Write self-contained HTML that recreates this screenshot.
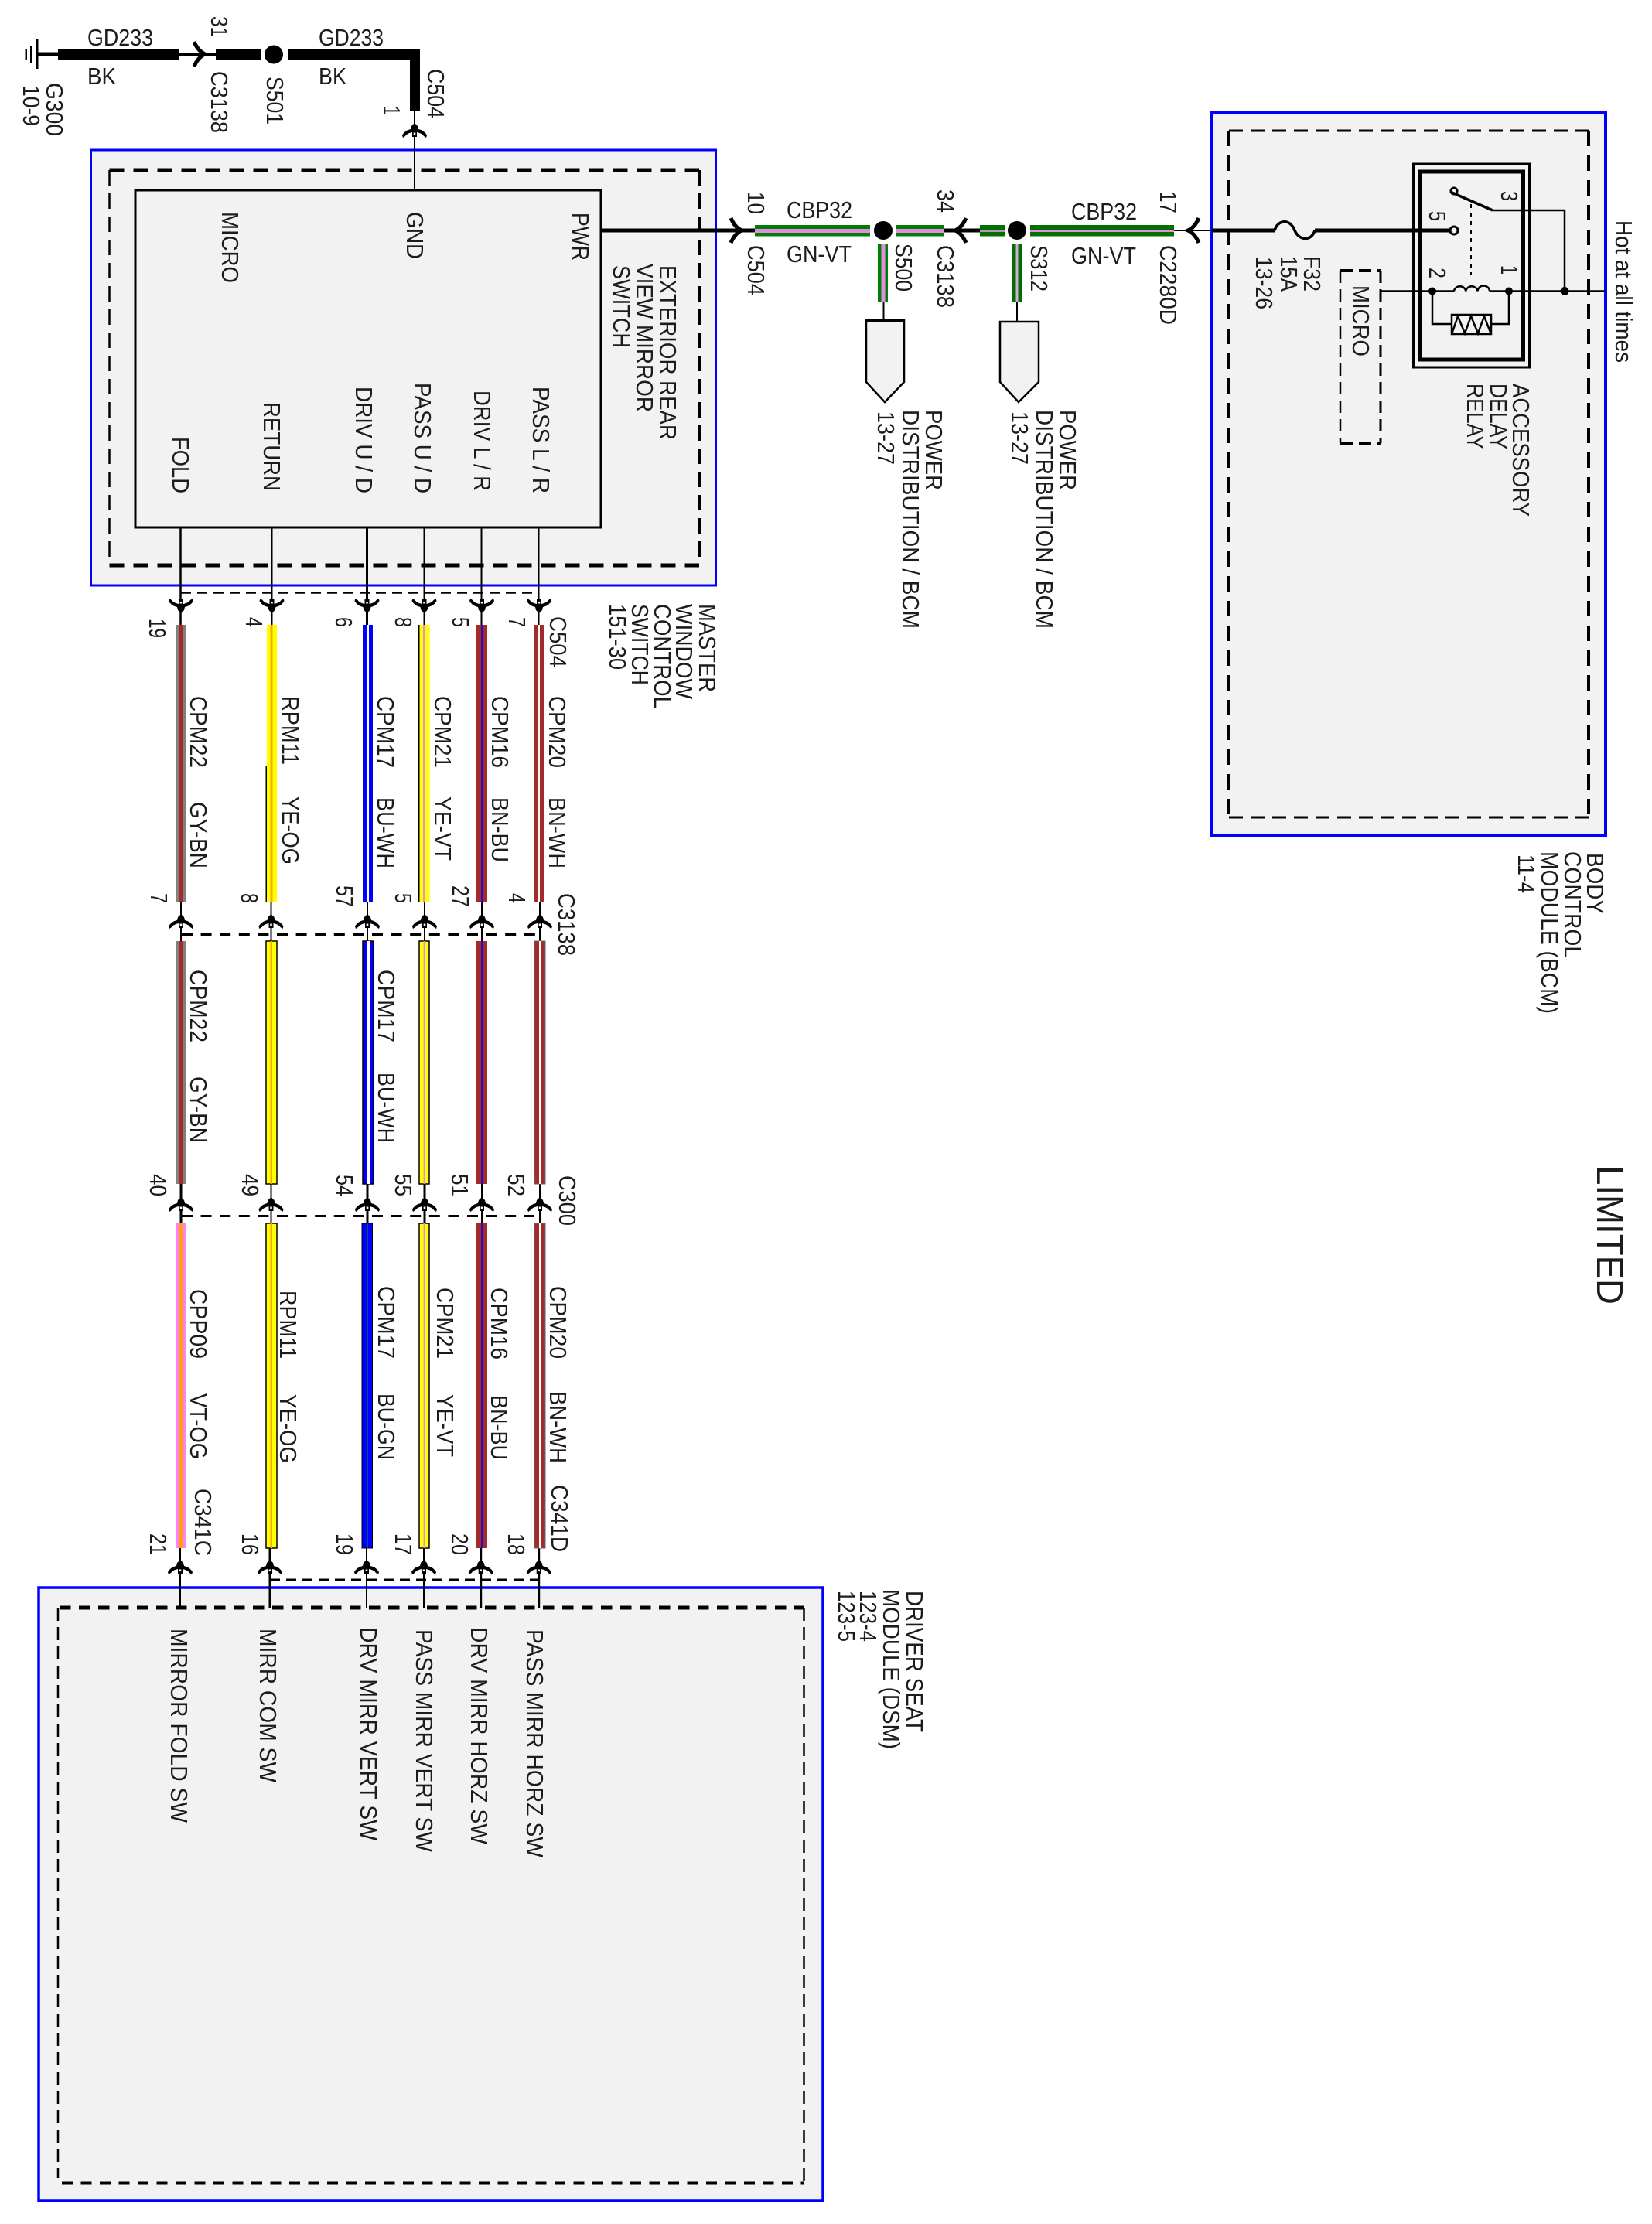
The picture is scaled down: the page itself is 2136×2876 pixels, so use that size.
<!DOCTYPE html>
<html><head><meta charset="utf-8"><style>
html,body{margin:0;padding:0;background:#fff}
svg{display:block;filter:blur(.3px)}
text{font-family:"Liberation Sans",sans-serif;font-size:31px;fill:#1c1c1c}
</style></head><body>
<svg xmlns="http://www.w3.org/2000/svg" width="2136" height="2876" viewBox="0 0 2136 2876">
<defs>
<g id="up"><path d="M0,0 L4,4 L5,8 C10,9 14,12 16,16 L15,19 L12,17 C10,14 7,13 3,12 L3,18 L-3,18 L-3,12 C-7,13 -10,14 -12,17 L-15,19 L-16,16 C-14,12 -10,9 -5,8 L-4,4Z"/><rect x="-1.300" y="12.500" width="2.600" height="2.600" fill="#fff"/></g>
<g id="dn" transform="scale(1,-1)"><path d="M0,0 L4,4 L5,8 C10,9 14,12 16,16 L15,19 L12,17 C10,14 7,13 3,12 L3,18 L-3,18 L-3,12 C-7,13 -10,14 -12,17 L-15,19 L-16,16 C-14,12 -10,9 -5,8 L-4,4Z"/><rect x="-1.300" y="12.500" width="2.600" height="2.600" fill="#fff"/></g>
<g id="cr"><path d="M-14,-16 Q-9,-4 0,0 Q-9,4 -14,16" fill="none" stroke="#000" stroke-width="5"/></g>
<g id="cl" transform="scale(-1,1)"><path d="M-14,-16 Q-9,-4 0,0 Q-9,4 -14,16" fill="none" stroke="#000" stroke-width="5"/></g>
</defs>
<rect width="2136" height="2876" fill="#fff"/>

<!-- module boxes -->
<rect x="117.500" y="194" width="808" height="563" fill="#f2f2f2" stroke="#0000ff" stroke-width="3"/>
<rect x="1567" y="145" width="509" height="936" fill="#f2f2f2" stroke="#0000ff" stroke-width="4"/>
<rect x="50" y="2053" width="1014" height="793" fill="#f2f2f2" stroke="#0000ff" stroke-width="3.500"/>

<g fill="none" stroke="#000">
<path d="M141.500,220H904" stroke-width="5" stroke-dasharray="19 12"/>
<path d="M141.500,731H904" stroke-width="5" stroke-dasharray="19 12"/>
<path d="M141.500,220V731" stroke-width="2.500" stroke-dasharray="20 10"/>
<path d="M904,220V731" stroke-width="4" stroke-dasharray="20 10"/>
<path d="M1589,169H2054" stroke-width="3" stroke-dasharray="18 10"/>
<path d="M1589,1057H2054" stroke-width="3" stroke-dasharray="18 10"/>
<path d="M1589,169V1057" stroke-width="4" stroke-dasharray="20 12"/>
<path d="M2054,169V1057" stroke-width="4" stroke-dasharray="20 12"/>
<path d="M77,2079H1040" stroke-width="5" stroke-dasharray="14.500 10.500"/>
<path d="M80,2823H1040" stroke-width="3" stroke-dasharray="14 10.500"/>
<path d="M75,2079V2817" stroke-width="2.500" stroke-dasharray="17 8"/>
<path d="M1039.500,2079V2823" stroke-width="2.500" stroke-dasharray="17 8"/>
<path d="M1733,350H1785M1733,573H1785" stroke-width="4" stroke-dasharray="16 8"/>
<path d="M1733,350V573" stroke-width="2.500" stroke-dasharray="16 8"/>
<path d="M1785,350V573" stroke-width="3" stroke-dasharray="16 8"/>
<!-- connector dashes -->
<path d="M234,766.500H693" stroke-width="2.500" stroke-dasharray="13 8"/>
<path d="M235,1208.700H693" stroke-width="4.500" stroke-dasharray="14 10.600"/>
<path d="M235,1572.500H691" stroke-width="3" stroke-dasharray="14 10.600"/>
<path d="M349,2043H696" stroke-width="3" stroke-dasharray="13 8"/>
</g>
<rect x="175" y="246" width="602" height="436" fill="#f2f2f2" stroke="#000" stroke-width="3"/>

<!-- top ground run -->
<g fill="#000">
<rect x="48" y="67.500" width="27" height="5"/>
<rect x="47" y="51" width="2.500" height="38"/><rect x="39" y="59" width="2.500" height="23"/><rect x="32.500" y="64" width="2.500" height="13"/>
<rect x="75" y="63" width="157" height="15"/>
<rect x="232" y="68" width="47" height="4"/>
<rect x="279" y="63" width="59" height="15"/>
<circle cx="354" cy="70.500" r="12"/>
<path d="M372,63H543V143H530V78H372Z"/>
<rect x="535" y="143" width="2" height="103"/>
<rect x="777" y="295.500" width="200" height="5"/>
<rect x="1220" y="295.500" width="47" height="5"/>
<rect x="1518" y="297" width="49" height="2"/>
<rect x="1567" y="295.500" width="81" height="5"/>
<rect x="1700" y="295.500" width="175" height="5"/>
</g>
<use href="#cr" x="265" y="70"/><use href="#up" x="536" y="159"/>

<!-- CBP32 wires -->
<g>
<rect x="976" y="291" width="149" height="14.500" fill="#008000"/><rect x="976" y="296" width="149" height="5" fill="#e88be8"/>
<rect x="1159" y="291" width="61" height="14.500" fill="#008000"/><rect x="1159" y="296" width="61" height="5" fill="#e88be8"/>
<rect x="1267" y="291" width="32" height="14.500" fill="#006f00"/><rect x="1267" y="297" width="32" height="3" fill="#c090c0"/>
<rect x="1332" y="291" width="186" height="14.500" fill="#006f00"/><rect x="1332" y="297" width="186" height="3" fill="#e88be8"/>
<rect x="1135" y="315" width="13" height="75" fill="#008000"/><rect x="1139.500" y="315" width="5" height="75" fill="#e88be8"/>
<rect x="1308" y="315" width="13.500" height="75" fill="#006f00"/><rect x="1313.500" y="315" width="3" height="75" fill="#d9a9d9"/>
<rect x="1141.500" y="390" width="2" height="26"/><rect x="1314" y="390" width="2" height="26"/>
<circle cx="1142" cy="298" r="12"/><circle cx="1315" cy="298" r="12"/>
</g>
<use href="#cr" x="959" y="298"/><use href="#cl" x="1235" y="298"/><use href="#cl" x="1536" y="298"/>
<path d="M1120,414H1169V494L1144,520L1120,494Z" fill="#f2f2f2" stroke="#000" stroke-width="2.500"/>
<rect x="1120" y="412" width="49" height="4.500"/>
<path d="M1293,416H1343V494L1317,520L1293,494Z" fill="#f2f2f2" stroke="#000" stroke-width="2.500"/>

<!-- BCM internals -->
<path d="M1648,298 C1652,284 1668,282 1674,298 C1680,312 1696,312 1700,298" fill="none" stroke="#000" stroke-width="3.500"/>
<rect x="1827.500" y="212" width="150" height="263" fill="none" stroke="#000" stroke-width="3"/>
<rect x="1836.500" y="222" width="133" height="243" fill="none" stroke="#000" stroke-width="5"/>
<circle cx="1880" cy="298" r="5" fill="#f2f2f2" stroke="#000" stroke-width="3"/>
<circle cx="1880" cy="247" r="4" fill="#f2f2f2" stroke="#000" stroke-width="3"/>
<g fill="none" stroke="#000">
<path d="M1875,248L1930,272" stroke-width="3.500"/>
<path d="M1930,272H2023V376.500" stroke-width="2.500"/>
<path d="M1902,264V355" stroke-width="2" stroke-dasharray="5 6"/>
<path d="M1785,376.500H1880M1926,376.500H2076" stroke-width="2.500"/>
<path d="M1880,376.500a7.700,7 0 0 1 15.300,0a7.700,7 0 0 1 15.300,0a7.700,7 0 0 1 15.400,0" stroke-width="2.500"/>
<path d="M1852,376.500V419H1877M1928,419H1951V376.500" stroke-width="2.500"/>
<rect x="1877" y="407" width="51" height="25" stroke-width="2.500"/>
<path d="M1877,432L1885,409L1894,431L1902,409L1911,431L1919,409L1928,432" stroke-width="2.500"/>
</g>
<circle cx="1852" cy="376.500" r="5"/><circle cx="1951" cy="376.500" r="5"/><circle cx="2023" cy="376.500" r="5.500"/>

<!-- vertical thin wires -->
<g fill="none" stroke="#000">
<path d="M233.500,682V808" stroke-width="2.500"/><path d="M351.500,682V808" stroke-width="2"/><path d="M474.500,682V808" stroke-width="3"/><path d="M548.500,682V808" stroke-width="2"/><path d="M622.500,682V808" stroke-width="2"/><path d="M696.500,682V808" stroke-width="2"/>
<path d="M234,1166V1217" stroke-width="2"/><path d="M350.500,1166V1217" stroke-width="2"/><path d="M475,1166V1217" stroke-width="2"/><path d="M549,1166V1217" stroke-width="2"/><path d="M623,1166V1217" stroke-width="2"/><path d="M698,1166V1217" stroke-width="2"/>
<path d="M234,1531V1582" stroke-width="3"/><path d="M350.500,1531V1582" stroke-width="2"/><path d="M475,1531V1582" stroke-width="3"/><path d="M549,1531V1582" stroke-width="3"/><path d="M623,1531V1582" stroke-width="2"/><path d="M698,1531V1582" stroke-width="2"/>
<path d="M233,2002V2079" stroke-width="2"/><path d="M349,2002V2079" stroke-width="3"/><path d="M474,2002V2079" stroke-width="2"/><path d="M548,2002V2079" stroke-width="2"/><path d="M621.700,2002V2079" stroke-width="3"/><path d="M696.700,2002V2079" stroke-width="3"/>
</g>

<!-- segment 1 -->
<rect x="228" y="808" width="13" height="358" fill="#808080"/><rect x="232" y="808" width="4" height="358" fill="#a52a2a"/>
<rect x="345" y="808" width="13" height="358" fill="#ffff00"/><rect x="349.500" y="808" width="3" height="358" fill="#ffa500"/><rect x="343.500" y="991" width="1.500" height="175"/>
<rect x="469" y="808" width="13" height="358" fill="#0000ff"/><rect x="474" y="808" width="3" height="358" fill="#fff"/>
<rect x="542" y="808" width="13.500" height="358" fill="#ffff00"/><rect x="547" y="808" width="3" height="358" fill="#e88be8"/><rect x="541" y="808" width="1.500" height="358"/>
<rect x="616" y="808" width="14" height="358" fill="#a52a2a"/><rect x="622.300" y="808" width="1.500" height="358" fill="#0000ff"/>
<rect x="690" y="808" width="14" height="358" fill="#a52a2a"/><rect x="696" y="808" width="2" height="358" fill="#fff"/>
<!-- segment 2 -->
<rect x="228" y="1217" width="13" height="314" fill="#808080"/><rect x="232" y="1217" width="4" height="314" fill="#a52a2a"/>
<rect x="344" y="1217" width="14" height="314" fill="#ffff00" stroke="#000" stroke-width="1.500"/><rect x="349.500" y="1217" width="2.500" height="314" fill="#ffa500"/>
<rect x="469" y="1217" width="14" height="314" fill="#0000ff" stroke="#000" stroke-width="1.500"/><rect x="475" y="1217" width="3" height="314" fill="#fff"/>
<rect x="542" y="1217" width="13" height="314" fill="#ffff00" stroke="#000" stroke-width="1.500"/><rect x="547.500" y="1217" width="2.500" height="314" fill="#e88be8"/>
<rect x="616" y="1217" width="14" height="314" fill="#a52a2a"/><rect x="622.300" y="1217" width="1.500" height="314" fill="#0000ff"/>
<rect x="691" y="1217" width="14" height="314" fill="#a52a2a" stroke="#666" stroke-width="1"/><rect x="697" y="1217" width="2" height="314" fill="#fff"/>
<!-- segment 3 -->
<rect x="228" y="1582" width="12.500" height="420" fill="#ff80ff"/><rect x="232" y="1582" width="4.500" height="420" fill="#ffa500"/>
<rect x="344" y="1582" width="14" height="420" fill="#ffff00" stroke="#000" stroke-width="1.500"/><rect x="349.500" y="1582" width="2.500" height="420" fill="#ffa500"/>
<rect x="468" y="1582" width="13.500" height="420" fill="#0000ff" stroke="#000" stroke-width="1"/><rect x="474" y="1582" width="1.500" height="420" fill="#00a000"/>
<rect x="542" y="1582" width="13" height="420" fill="#ffff00" stroke="#000" stroke-width="1.500"/><rect x="547.500" y="1582" width="2.500" height="420" fill="#e88be8"/>
<rect x="616" y="1582" width="14" height="420" fill="#a52a2a"/><rect x="622.300" y="1582" width="1.500" height="420" fill="#0000ff"/>
<rect x="691" y="1582" width="14" height="420" fill="#a52a2a" stroke="#666" stroke-width="1"/><rect x="697" y="1582" width="2" height="420" fill="#fff"/>

<!-- connector arrows -->
<use href="#dn" x="234" y="793"/><use href="#dn" x="351.500" y="793"/><use href="#dn" x="474.500" y="793"/><use href="#dn" x="548.500" y="793"/><use href="#dn" x="623" y="793"/><use href="#dn" x="697" y="793"/>
<use href="#up" x="234" y="1182"/><use href="#up" x="350.500" y="1182"/><use href="#up" x="475" y="1182"/><use href="#up" x="549" y="1182"/><use href="#up" x="623" y="1182"/><use href="#up" x="698" y="1182"/>
<use href="#up" x="234" y="1548"/><use href="#up" x="350.500" y="1548"/><use href="#up" x="475" y="1548"/><use href="#up" x="549" y="1548"/><use href="#up" x="623" y="1548"/><use href="#up" x="698" y="1548"/>
<use href="#up" x="233" y="2017"/><use href="#up" x="349" y="2017"/><use href="#up" x="474" y="2017"/><use href="#up" x="548" y="2017"/><use href="#up" x="621.700" y="2017"/><use href="#up" x="696.700" y="2017"/>

<!-- horizontal labels -->
<text x="113" y="59" textLength="85" lengthAdjust="spacingAndGlyphs">GD233</text>
<text x="113" y="109" textLength="37" lengthAdjust="spacingAndGlyphs">BK</text>
<text x="412" y="59" textLength="84" lengthAdjust="spacingAndGlyphs">GD233</text>
<text x="412" y="109" textLength="36" lengthAdjust="spacingAndGlyphs">BK</text>
<text x="1017" y="282" textLength="85" lengthAdjust="spacingAndGlyphs">CBP32</text>
<text x="1017" y="339" textLength="84" lengthAdjust="spacingAndGlyphs">GN-VT</text>
<text x="1385" y="284" textLength="85" lengthAdjust="spacingAndGlyphs">CBP32</text>
<text x="1385" y="341" textLength="84" lengthAdjust="spacingAndGlyphs">GN-VT</text>

<!-- rotated labels: top-left -->
<text transform="translate(273,21) rotate(90)" textLength="27" lengthAdjust="spacingAndGlyphs">31</text>
<text transform="translate(273,92) rotate(90)" textLength="80" lengthAdjust="spacingAndGlyphs">C3138</text>
<text transform="translate(345,99) rotate(90)" textLength="62" lengthAdjust="spacingAndGlyphs">S501</text>
<text transform="translate(60,107) rotate(90)" textLength="69" lengthAdjust="spacingAndGlyphs">G300</text>
<text transform="translate(30,110) rotate(90)" textLength="53" lengthAdjust="spacingAndGlyphs">10-9</text>
<text transform="translate(553,89) rotate(90)" textLength="64" lengthAdjust="spacingAndGlyphs">C504</text>
<text transform="translate(496,137) rotate(90)" textLength="12" lengthAdjust="spacingAndGlyphs">1</text>

<!-- exterior switch -->
<text transform="translate(287,274) rotate(90)" textLength="92" lengthAdjust="spacingAndGlyphs">MICRO</text>
<text transform="translate(526,274) rotate(90)" textLength="61" lengthAdjust="spacingAndGlyphs">GND</text>
<text transform="translate(740,275) rotate(90)" textLength="62" lengthAdjust="spacingAndGlyphs">PWR</text>
<text transform="translate(853,343) rotate(90)" textLength="226" lengthAdjust="spacingAndGlyphs">EXTERIOR REAR</text>
<text transform="translate(823,341) rotate(90)" textLength="192" lengthAdjust="spacingAndGlyphs">VIEW MIRROR</text>
<text transform="translate(793,343) rotate(90)" textLength="107" lengthAdjust="spacingAndGlyphs">SWITCH</text>
<text transform="translate(223,565) rotate(90)" textLength="73" lengthAdjust="spacingAndGlyphs">FOLD</text>
<text transform="translate(341,520) rotate(90)" textLength="115" lengthAdjust="spacingAndGlyphs">RETURN</text>
<text transform="translate(460,500) rotate(90)" textLength="138" lengthAdjust="spacingAndGlyphs">DRIV U / D</text>
<text transform="translate(536,495) rotate(90)" textLength="143" lengthAdjust="spacingAndGlyphs">PASS U / D</text>
<text transform="translate(613,505) rotate(90)" textLength="130" lengthAdjust="spacingAndGlyphs">DRIV L / R</text>
<text transform="translate(689,500) rotate(90)" textLength="138" lengthAdjust="spacingAndGlyphs">PASS L / R</text>

<!-- centre right labels -->
<text transform="translate(967,248) rotate(90)" textLength="29" lengthAdjust="spacingAndGlyphs">10</text>
<text transform="translate(967,317) rotate(90)" textLength="65" lengthAdjust="spacingAndGlyphs">C504</text>
<text transform="translate(1212,245) rotate(90)" textLength="30" lengthAdjust="spacingAndGlyphs">34</text>
<text transform="translate(1212,317) rotate(90)" textLength="81" lengthAdjust="spacingAndGlyphs">C3138</text>
<text transform="translate(1158,315) rotate(90)" textLength="62" lengthAdjust="spacingAndGlyphs">S500</text>
<text transform="translate(1333,317) rotate(90)" textLength="60" lengthAdjust="spacingAndGlyphs">S312</text>
<text transform="translate(1500,247) rotate(90)" textLength="29" lengthAdjust="spacingAndGlyphs">17</text>
<text transform="translate(1500,317) rotate(90)" textLength="103" lengthAdjust="spacingAndGlyphs">C2280D</text>
<text transform="translate(1197,530) rotate(90)" textLength="104" lengthAdjust="spacingAndGlyphs">POWER</text>
<text transform="translate(1167,530) rotate(90)" textLength="283" lengthAdjust="spacingAndGlyphs">DISTRIBUTION / BCM</text>
<text transform="translate(1135,532) rotate(90)" textLength="69" lengthAdjust="spacingAndGlyphs">13-27</text>
<text transform="translate(1370,530) rotate(90)" textLength="104" lengthAdjust="spacingAndGlyphs">POWER</text>
<text transform="translate(1340,530) rotate(90)" textLength="283" lengthAdjust="spacingAndGlyphs">DISTRIBUTION / BCM</text>
<text transform="translate(1308,532) rotate(90)" textLength="69" lengthAdjust="spacingAndGlyphs">13-27</text>

<!-- BCM labels -->
<text transform="translate(1749,369) rotate(90)" textLength="92" lengthAdjust="spacingAndGlyphs">MICRO</text>
<text transform="translate(1686,331) rotate(90)" textLength="46" lengthAdjust="spacingAndGlyphs">F32</text>
<text transform="translate(1656,331) rotate(90)" textLength="46" lengthAdjust="spacingAndGlyphs">15A</text>
<text transform="translate(1624,332) rotate(90)" textLength="68" lengthAdjust="spacingAndGlyphs">13-26</text>
<text transform="translate(1941,247) rotate(90)" textLength="13" lengthAdjust="spacingAndGlyphs">3</text>
<text transform="translate(1848,273) rotate(90)" textLength="13" lengthAdjust="spacingAndGlyphs">5</text>
<text transform="translate(1848,346) rotate(90)" textLength="14" lengthAdjust="spacingAndGlyphs">2</text>
<text transform="translate(1941,343) rotate(90)" textLength="12" lengthAdjust="spacingAndGlyphs">1</text>
<text transform="translate(1956,496) rotate(90)" textLength="172" lengthAdjust="spacingAndGlyphs">ACCESSORY</text>
<text transform="translate(1927,496) rotate(90)" textLength="85" lengthAdjust="spacingAndGlyphs">DELAY</text>
<text transform="translate(1897,496) rotate(90)" textLength="85" lengthAdjust="spacingAndGlyphs">RELAY</text>
<text transform="translate(2089,285) rotate(90)" textLength="184" lengthAdjust="spacingAndGlyphs">Hot at all times</text>
<text transform="translate(2052,1103) rotate(90)" textLength="79" lengthAdjust="spacingAndGlyphs">BODY</text>
<text transform="translate(2023,1101) rotate(90)" textLength="138" lengthAdjust="spacingAndGlyphs">CONTROL</text>
<text transform="translate(1993,1101) rotate(90)" textLength="210" lengthAdjust="spacingAndGlyphs">MODULE (BCM)</text>
<text transform="translate(1963,1105) rotate(90)" textLength="50" lengthAdjust="spacingAndGlyphs">11-4</text>
<text style="font-size:48px" transform="translate(2065,1507) rotate(90)" textLength="180" lengthAdjust="spacingAndGlyphs">LIMITED</text>

<!-- C504 row -->
<text transform="translate(193,800) rotate(90)" textLength="25" lengthAdjust="spacingAndGlyphs">19</text>
<text transform="translate(318,798) rotate(90)" textLength="13" lengthAdjust="spacingAndGlyphs">4</text>
<text transform="translate(434,798) rotate(90)" textLength="13" lengthAdjust="spacingAndGlyphs">6</text>
<text transform="translate(511,798) rotate(90)" textLength="13" lengthAdjust="spacingAndGlyphs">8</text>
<text transform="translate(585,798) rotate(90)" textLength="13" lengthAdjust="spacingAndGlyphs">5</text>
<text transform="translate(658,798) rotate(90)" textLength="13" lengthAdjust="spacingAndGlyphs">7</text>
<text transform="translate(711,797) rotate(90)" textLength="66" lengthAdjust="spacingAndGlyphs">C504</text>
<text transform="translate(904,781) rotate(90)" textLength="114" lengthAdjust="spacingAndGlyphs">MASTER</text>
<text transform="translate(874,781) rotate(90)" textLength="123" lengthAdjust="spacingAndGlyphs">WINDOW</text>
<text transform="translate(846,781) rotate(90)" textLength="135" lengthAdjust="spacingAndGlyphs">CONTROL</text>
<text transform="translate(817,781) rotate(90)" textLength="105" lengthAdjust="spacingAndGlyphs">SWITCH</text>
<text transform="translate(788,781) rotate(90)" textLength="85" lengthAdjust="spacingAndGlyphs">151-30</text>

<!-- seg 1 labels -->
<text transform="translate(246,900) rotate(90)" textLength="93" lengthAdjust="spacingAndGlyphs">CPM22</text>
<text transform="translate(246,1037) rotate(90)" textLength="86" lengthAdjust="spacingAndGlyphs">GY-BN</text>
<text transform="translate(365,900) rotate(90)" textLength="89" lengthAdjust="spacingAndGlyphs">RPM11</text>
<text transform="translate(365,1030) rotate(90)" textLength="88" lengthAdjust="spacingAndGlyphs">YE-OG</text>
<text transform="translate(488,900) rotate(90)" textLength="93" lengthAdjust="spacingAndGlyphs">CPM17</text>
<text transform="translate(488,1031) rotate(90)" textLength="92" lengthAdjust="spacingAndGlyphs">BU-WH</text>
<text transform="translate(562,900) rotate(90)" textLength="93" lengthAdjust="spacingAndGlyphs">CPM21</text>
<text transform="translate(562,1030) rotate(90)" textLength="83" lengthAdjust="spacingAndGlyphs">YE-VT</text>
<text transform="translate(636,900) rotate(90)" textLength="93" lengthAdjust="spacingAndGlyphs">CPM16</text>
<text transform="translate(636,1031) rotate(90)" textLength="84" lengthAdjust="spacingAndGlyphs">BN-BU</text>
<text transform="translate(710,900) rotate(90)" textLength="93" lengthAdjust="spacingAndGlyphs">CPM20</text>
<text transform="translate(710,1031) rotate(90)" textLength="92" lengthAdjust="spacingAndGlyphs">BN-WH</text>

<!-- C3138 row -->
<text transform="translate(195,1155) rotate(90)" textLength="13" lengthAdjust="spacingAndGlyphs">7</text>
<text transform="translate(312,1155) rotate(90)" textLength="13" lengthAdjust="spacingAndGlyphs">8</text>
<text transform="translate(435,1145) rotate(90)" textLength="28" lengthAdjust="spacingAndGlyphs">57</text>
<text transform="translate(511,1155) rotate(90)" textLength="13" lengthAdjust="spacingAndGlyphs">5</text>
<text transform="translate(585,1145) rotate(90)" textLength="28" lengthAdjust="spacingAndGlyphs">27</text>
<text transform="translate(658,1155) rotate(90)" textLength="13" lengthAdjust="spacingAndGlyphs">4</text>
<text transform="translate(722,1155) rotate(90)" textLength="81" lengthAdjust="spacingAndGlyphs">C3138</text>

<!-- seg 2 labels -->
<text transform="translate(246,1254) rotate(90)" textLength="94" lengthAdjust="spacingAndGlyphs">CPM22</text>
<text transform="translate(246,1392) rotate(90)" textLength="86" lengthAdjust="spacingAndGlyphs">GY-BN</text>
<text transform="translate(489,1254) rotate(90)" textLength="94" lengthAdjust="spacingAndGlyphs">CPM17</text>
<text transform="translate(489,1387) rotate(90)" textLength="91" lengthAdjust="spacingAndGlyphs">BU-WH</text>

<!-- C300 row -->
<text transform="translate(194,1518) rotate(90)" textLength="29" lengthAdjust="spacingAndGlyphs">40</text>
<text transform="translate(313,1518) rotate(90)" textLength="29" lengthAdjust="spacingAndGlyphs">49</text>
<text transform="translate(435,1519) rotate(90)" textLength="28" lengthAdjust="spacingAndGlyphs">54</text>
<text transform="translate(511,1518) rotate(90)" textLength="29" lengthAdjust="spacingAndGlyphs">55</text>
<text transform="translate(584,1518) rotate(90)" textLength="29" lengthAdjust="spacingAndGlyphs">51</text>
<text transform="translate(657,1518) rotate(90)" textLength="29" lengthAdjust="spacingAndGlyphs">52</text>
<text transform="translate(723,1520) rotate(90)" textLength="65" lengthAdjust="spacingAndGlyphs">C300</text>

<!-- seg 3 labels -->
<text transform="translate(246,1667) rotate(90)" textLength="90" lengthAdjust="spacingAndGlyphs">CPP09</text>
<text transform="translate(246,1802) rotate(90)" textLength="85" lengthAdjust="spacingAndGlyphs">VT-OG</text>
<text transform="translate(362,1669) rotate(90)" textLength="88" lengthAdjust="spacingAndGlyphs">RPM11</text>
<text transform="translate(362,1803) rotate(90)" textLength="89" lengthAdjust="spacingAndGlyphs">YE-OG</text>
<text transform="translate(489,1663) rotate(90)" textLength="94" lengthAdjust="spacingAndGlyphs">CPM17</text>
<text transform="translate(489,1802) rotate(90)" textLength="86" lengthAdjust="spacingAndGlyphs">BU-GN</text>
<text transform="translate(565,1665) rotate(90)" textLength="92" lengthAdjust="spacingAndGlyphs">CPM21</text>
<text transform="translate(565,1803) rotate(90)" textLength="81" lengthAdjust="spacingAndGlyphs">YE-VT</text>
<text transform="translate(635,1665) rotate(90)" textLength="93" lengthAdjust="spacingAndGlyphs">CPM16</text>
<text transform="translate(635,1804) rotate(90)" textLength="84" lengthAdjust="spacingAndGlyphs">BN-BU</text>
<text transform="translate(711,1663) rotate(90)" textLength="94" lengthAdjust="spacingAndGlyphs">CPM20</text>
<text transform="translate(711,1799) rotate(90)" textLength="93" lengthAdjust="spacingAndGlyphs">BN-WH</text>
<text transform="translate(252,1925) rotate(90)" textLength="87" lengthAdjust="spacingAndGlyphs">C341C</text>
<text transform="translate(713,1920) rotate(90)" textLength="87" lengthAdjust="spacingAndGlyphs">C341D</text>
<text transform="translate(194,1983) rotate(90)" textLength="28" lengthAdjust="spacingAndGlyphs">21</text>
<text transform="translate(313,1983) rotate(90)" textLength="28" lengthAdjust="spacingAndGlyphs">16</text>
<text transform="translate(435,1983) rotate(90)" textLength="28" lengthAdjust="spacingAndGlyphs">19</text>
<text transform="translate(511,1983) rotate(90)" textLength="28" lengthAdjust="spacingAndGlyphs">17</text>
<text transform="translate(584,1983) rotate(90)" textLength="28" lengthAdjust="spacingAndGlyphs">20</text>
<text transform="translate(657,1983) rotate(90)" textLength="28" lengthAdjust="spacingAndGlyphs">18</text>

<!-- DSM labels -->
<text transform="translate(221,2106) rotate(90)" textLength="251" lengthAdjust="spacingAndGlyphs">MIRROR FOLD SW</text>
<text transform="translate(336,2106) rotate(90)" textLength="199" lengthAdjust="spacingAndGlyphs">MIRR COM SW</text>
<text transform="translate(466,2104) rotate(90)" textLength="276" lengthAdjust="spacingAndGlyphs">DRV MIRR VERT SW</text>
<text transform="translate(538,2107) rotate(90)" textLength="288" lengthAdjust="spacingAndGlyphs">PASS MIRR VERT SW</text>
<text transform="translate(609,2104) rotate(90)" textLength="281" lengthAdjust="spacingAndGlyphs">DRV MIRR HORZ SW</text>
<text transform="translate(681,2107) rotate(90)" textLength="295" lengthAdjust="spacingAndGlyphs">PASS MIRR HORZ SW</text>
<text transform="translate(1172,2057) rotate(90)" textLength="183" lengthAdjust="spacingAndGlyphs">DRIVER SEAT</text>
<text transform="translate(1142,2055) rotate(90)" textLength="207" lengthAdjust="spacingAndGlyphs">MODULE (DSM)</text>
<text transform="translate(1112,2057) rotate(90)" textLength="66" lengthAdjust="spacingAndGlyphs">123-4</text>
<text transform="translate(1084,2057) rotate(90)" textLength="66" lengthAdjust="spacingAndGlyphs">123-5</text>
</svg>
</body></html>
